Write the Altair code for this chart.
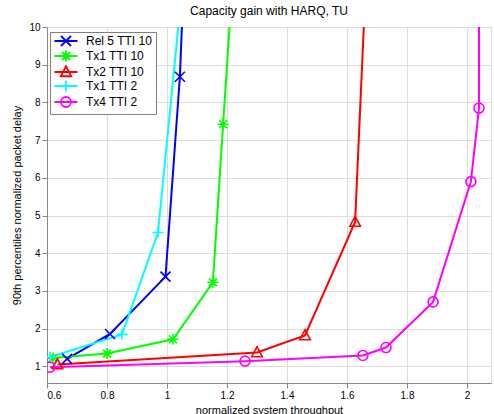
import altair as alt
import pandas as pd

series = ["Rel 5 TTI 10", "Tx1 TTI 10", "Tx2 TTI 10", "Tx1 TTI 2", "Tx4 TTI 2"]
colors = ["#0000ff", "#00ff00", "#ff0000", "#00ffff", "#ff00ff"]

rel5_x = [0.667, 0.81, 0.995, 1.043, 1.062]
rel5_y = [1.20, 1.86, 3.38, 8.68, 12.5]
tx1_10_x = [0.62, 0.80, 1.02, 1.153, 1.187, 1.225]
tx1_10_y = [1.22, 1.34, 1.72, 3.23, 7.42, 12.0]
tx2_10_x = [0.635, 1.30, 1.46, 1.627, 1.67]
tx2_10_y = [1.05, 1.37, 1.82, 4.83, 12.5]
tx1_2_x = [0.61, 0.85, 0.97, 1.06]
tx1_2_y = [1.25, 1.85, 4.55, 11.8]
tx4_2_x = [0.61, 1.26, 1.653, 1.73, 1.887, 2.013, 2.04, 2.04]
tx4_2_y = [0.98, 1.14, 1.29, 1.50, 2.71, 5.90, 7.85, 12.0]

x_ticks = [0.6, 0.8, 1.0, 1.2, 1.4, 1.6, 1.8, 2.0]
y_ticks = [1, 2, 3, 4, 5, 6, 7, 8, 9, 10]

# marker glyphs (unit box)
m_x = "M-1,-1L1,1M-1,1L1,-1"
m_star = "M-1.1,0H1.1M0,-1.1V1.1M-0.8,-0.8L0.8,0.8M-0.8,0.8L0.8,-0.8"
m_tri = "M0,-1.15L1.05,0.85L-1.05,0.85Z"
m_plus = "M-1.1,0H1.1M0,-1.1V1.1"
m_circ = "M1,0A1,1,0,1,1,-1,0A1,1,0,1,1,1,0Z"
markers = [m_x, m_star, m_tri, m_plus, m_circ]
seg = "M-2.3,0H2.3"
legend_shapes = [seg + m for m in markers]

rows = []
for name, xs, ys in [
    (series[0], rel5_x, rel5_y),
    (series[1], tx1_10_x, tx1_10_y),
    (series[2], tx2_10_x, tx2_10_y),
    (series[3], tx1_2_x, tx1_2_y),
    (series[4], tx4_2_x, tx4_2_y),
]:
    for i, (a, b) in enumerate(zip(xs, ys)):
        rows.append({"series": name, "x": a, "y": b, "i": i})
df = pd.DataFrame(rows)

font = "Liberation Sans"
xs = alt.X("x:Q", scale=alt.Scale(domain=[0.6, 2.08], nice=False, zero=False),
           axis=alt.Axis(values=x_ticks, format=".1~f", title="normalized system throughput",
                         titlePadding=4, titleFontWeight=400))
ys = alt.Y("y:Q", scale=alt.Scale(domain=[0.56, 10], nice=False, zero=False),
           axis=alt.Axis(values=y_ticks, format="d", title="90th percentiles normalized packet delay",
                         titlePadding=6, titleFontWeight=400))

base = alt.Chart(df)

lines = base.mark_line(strokeWidth=2, clip=True).encode(
    x=xs, y=ys,
    color=alt.Color("series:N", scale=alt.Scale(domain=series, range=colors), legend=None),
    detail="series:N",
    order="i:Q",
)

points = base.mark_point(filled=False, size=100, strokeWidth=1.6, opacity=1, clip=True).encode(
    x=xs, y=ys,
    color=alt.Color("series:N", scale=alt.Scale(domain=series, range=colors), legend=None),
    shape=alt.Shape("series:N", scale=alt.Scale(domain=series, range=markers), legend=None),
)

legend_layer = base.transform_filter("datum.x > 100").mark_point(filled=False, strokeWidth=1.6, opacity=1).encode(
    x=xs, y=ys,
    color=alt.Color("series:N", scale=alt.Scale(domain=series, range=colors),
                    legend=alt.Legend(title=None, orient="none", legendX=3, legendY=5,
                                      fillColor="white", strokeColor="#808080",
                                      padding=3, rowPadding=-7, symbolSize=100,
                                      symbolStrokeWidth=1.8, symbolOffset=7, labelOffset=14,
                                      labelFontSize=12, labelFont=font, labelColor="black",
                                      labelLimit=300)),
    shape=alt.Shape("series:N", scale=alt.Scale(domain=series, range=legend_shapes)),
)

chart = alt.layer(lines, points, legend_layer).resolve_scale(
    color="independent", shape="independent"
).properties(
    width=444, height=356,
    title=alt.Title("Capacity gain with HARQ, TU", fontSize=12, font=font, fontWeight="normal",
                    color="black", offset=4),
    autosize=alt.AutoSizeParams(type="none"),
    padding={"left": 47, "top": 27, "right": 3, "bottom": 31},
).configure_axis(
    labelFont=font, labelFontSize=12, labelColor="black",
    titleFont=font, titleFontSize=12, titleFontWeight=400, titleColor="black",
    domainColor="#808080", tickSize=0, labelPadding=7,
    gridColor="#9a9a9a", gridDash=[1, 2], gridWidth=1,
).configure_view(
    stroke="#808080", strokeWidth=1
).configure(background="white")

chart.save("out.html", embed_options={"renderer": "svg", "actions": False})
